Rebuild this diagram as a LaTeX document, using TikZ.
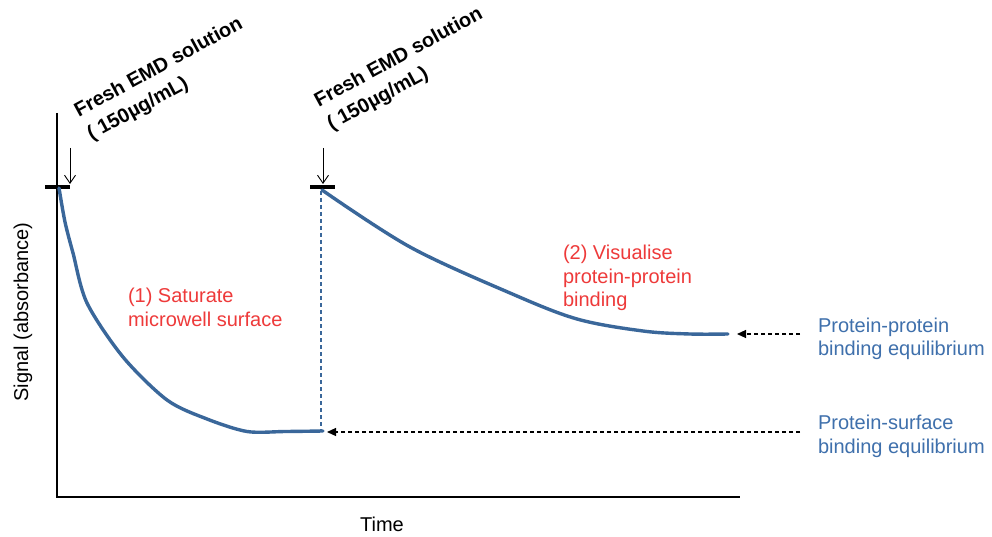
\documentclass[tikz,border=0pt]{standalone}
\usepackage{fontspec}
\setmainfont{Liberation Sans}
\usetikzlibrary{arrows.meta}
\definecolor{curveblue}{RGB}{58,103,154}
\definecolor{labelblue}{RGB}{63,112,172}
\definecolor{stepred}{RGB}{238,58,58}
\tikzset{
  txt/.style={inner sep=0pt, outer sep=0pt, align=left, font=\fontsize{20}{23.5}\selectfont},
  addlabel/.style={txt, font=\bfseries\fontsize{20}{26.5}\selectfont, anchor=base west},
  stepnote/.style={txt, text=stepred, anchor=north west},
  eqnote/.style={txt, text=labelblue, anchor=north west},
  signal/.style={line width=3.4pt, curveblue, line cap=round, line join=round},
  tickmark/.style={line width=4pt, black},
  addarrow/.style={line width=0.9pt, -{Straight Barb[length=8pt,width=11pt]}},
  eqarrow/.style={line width=1.2pt, dash pattern=on 4pt off 3pt, -{Triangle[length=9pt,width=8pt]}},
  guide/.style={line width=1.1pt, curveblue, dash pattern=on 4pt off 3pt},
  axis/.style={line width=1.3pt, black}
}
\begin{document}
\begin{tikzpicture}[x=1pt,y=-1pt]
\useasboundingbox[fill=white] (0,0) rectangle (992,537);

% axes
\coordinate (origin) at (57,497);
\coordinate (ytop) at (57,113);
\coordinate (xend) at (740,497);
\draw[axis] (ytop) -- (origin) -- (xend);
\node[txt, rotate=90, anchor=base] (ylab) at (28,312) {Signal (absorbance)};
\node[txt, anchor=base] (xlab) at (382,531) {Time};

% addition markers
\coordinate (t1a) at (45,187); \coordinate (t1b) at (70,187);
\coordinate (t2a) at (310,187); \coordinate (t2b) at (335,187);
\draw[tickmark] (t1a) -- (t1b);
\draw[tickmark] (t2a) -- (t2b);
\coordinate (a1s) at (70,148); \coordinate (a1e) at (70,184);
\coordinate (a2s) at (323,148); \coordinate (a2e) at (323,184);
\draw[addarrow] (a1s) -- (a1e);
\draw[addarrow] (a2s) -- (a2e);

% the base anchor sits on the second line
\node[addlabel, rotate=28.5] (add1) at (91.5,140.5) {Fresh EMD solution\\( 150\textmu g/mL)};
\node[addlabel, rotate=28.5] (add2) at (331.5,130.5) {Fresh EMD solution\\( 150\textmu g/mL)};

% guide between the two phases
\coordinate (g1) at (321,191); \coordinate (g2) at (321,430);
\draw[guide] (g1) -- (g2);

% phase 1: surface saturation
\draw[signal] plot[smooth, tension=0.5] coordinates
  {(59,188) (65,222) (73,253) (87,303) (123,357) (167,400) (207,419) (247,431.5) (285,431.5) (323,431)};
% phase 2: protein-protein binding
\draw[signal] plot[smooth, tension=0.55] coordinates
  {(322,190) (410,247) (510,293) (577,319) (643,331) (690,334) (728,334)};

% equilibrium pointers
\coordinate (e1s) at (800,334); \coordinate (e1e) at (737,334);
\coordinate (e2s) at (800,432); \coordinate (e2e) at (327,432);
\draw[eqarrow] (e1s) -- (e1e);
\draw[eqarrow] (e2s) -- (e2e);

% annotations
\node[stepnote] (s1) at (128,288.5) {(1) Saturate\\microwell surface};
\node[stepnote] (s2) at (563,245.5) {(2) Visualise\\protein-protein\\binding};
\node[eqnote] (q1) at (818,317.7) {Protein-protein\\binding equilibrium};
\node[eqnote] (q2) at (818,415.5) {Protein-surface\\binding equilibrium};
\end{tikzpicture}
\end{document}
